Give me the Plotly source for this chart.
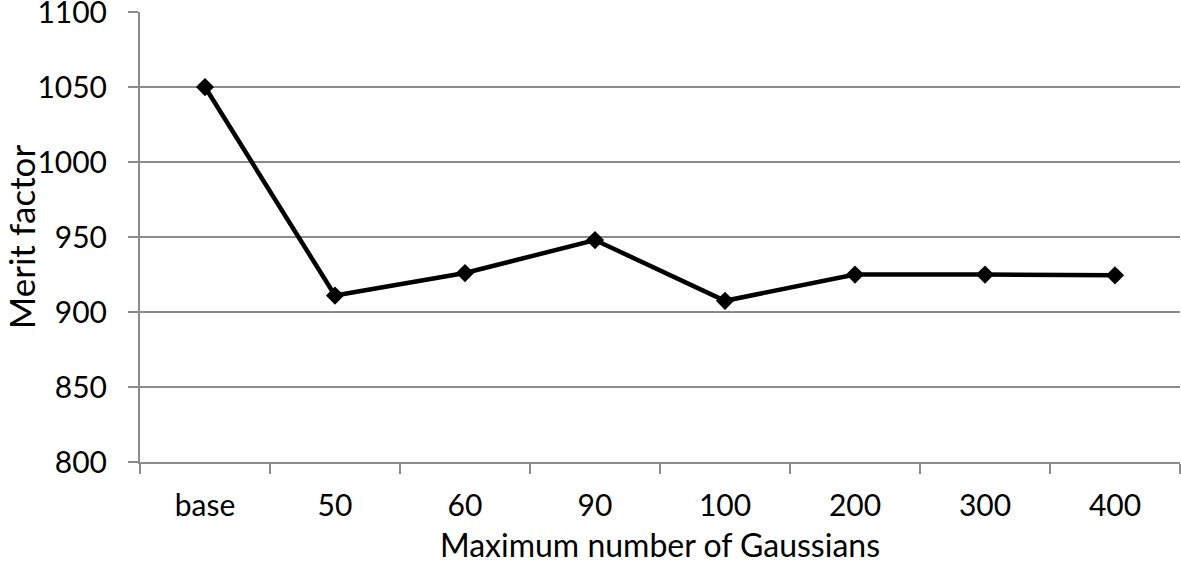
import plotly.graph_objects as go

categories = ["base", "50", "60", "90", "100", "200", "300", "400"]
merit_factor = [1050, 911, 926, 948, 907.5, 925, 925, 924.5]
y_ticks = [800, 850, 900, 950, 1000, 1050, 1100]

font_family = "Lato, 'Open Sans', sans-serif"
x_title_font = dict(family=font_family, size=32, color="black")
y_title_font = dict(family=font_family, size=35, color="black")
tick_font = dict(family=font_family, size=30, color="black")

fig = go.Figure()
fig.add_trace(go.Scatter(
    x=categories, y=merit_factor, mode="lines+markers",
    line=dict(color="black", width=4.5),
    marker=dict(symbol="diamond", size=14, color="black"),
    showlegend=False,
))

fig.update_layout(
    width=1181, height=564,
    margin=dict(l=140, r=1, t=12, b=102),
    paper_bgcolor="white", plot_bgcolor="white",
    font=dict(family=font_family, size=30, color="black"),
)
fig.update_xaxes(
    type="category", range=[-0.5, 7.5],
    tickson="boundaries", ticks="outside", ticklen=10, tickcolor="#8c8c8c", tickwidth=2,
    showline=True, linecolor="#8c8c8c", linewidth=2,
    showgrid=False, automargin=False,
    ticklabelstandoff=16,
    title=dict(text="Maximum number of Gaussians", standoff=15, font=x_title_font),
    tickfont=tick_font,
)
fig.update_yaxes(
    range=[800, 1100.05], tickvals=y_ticks,
    ticks="outside", ticklen=10, tickcolor="#8c8c8c", tickwidth=2,
    showline=True, linecolor="#8c8c8c", linewidth=2,
    showgrid=True, gridcolor="#8c8c8c", gridwidth=2,
    zeroline=False, automargin=False,
    ticklabelstandoff=15, ticklabeloverflow="allow",
    title=dict(text="Merit factor", standoff=14, font=y_title_font),
    tickfont=tick_font,
)

fig.write_html("out.html", config={"displayModeBar": False},
               post_script="document.body.style.margin='0';")
